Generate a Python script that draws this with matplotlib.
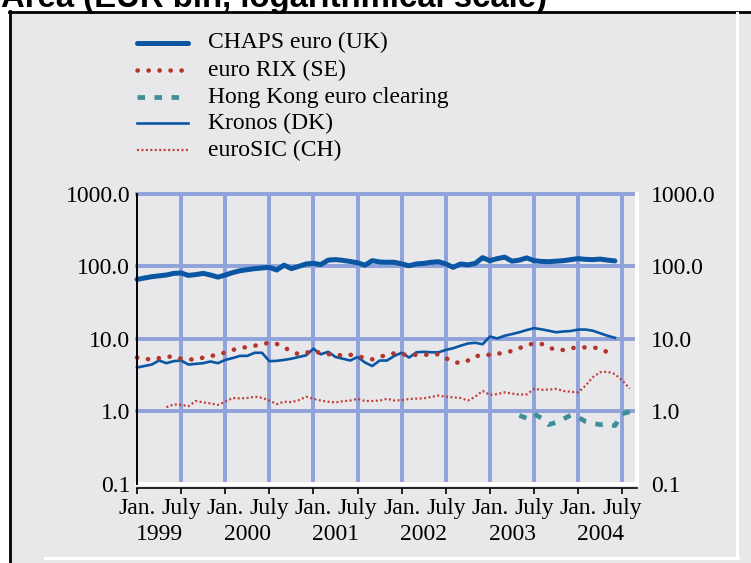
import numpy as np
import matplotlib
matplotlib.use("Agg")
import matplotlib.pyplot as plt
from matplotlib.lines import Line2D
from matplotlib.patches import Rectangle
from matplotlib.ticker import NullLocator

# ---------------- data (month index 0 = Jan. 1999) ----------------
title = "Area (EUR bln, logarithmical scale)"

chaps_start = 0
chaps = [66, 69, 72, 74, 76, 80, 81, 75, 77, 80, 76, 71,
         76, 82, 87, 90, 93, 95, 97, 89, 104, 93, 100, 108,
         110, 106, 122, 124, 121, 117, 112, 104, 120, 115, 114, 114,
         108, 102, 108, 110, 114, 116, 108, 97, 108, 105, 110, 132,
         120, 128, 134, 118, 122, 131, 120, 117, 116, 118, 120, 124,
         128, 125, 124, 126, 122, 119]

rix_start = 0
rix = [5.5, 5.3, 5.15, 5.4, 5.7, 5.6, 5.3, 5.2, 5.15, 5.5, 5.8, 5.95,
       6.5, 7.0, 7.4, 7.7, 8.0, 8.4, 8.8, 8.5, 7.6, 6.7, 6.1, 6.4,
       6.8, 6.3, 6.1, 6.1, 5.8, 6.0, 5.8, 5.4, 5.2, 5.6, 6.0, 6.3,
       6.1, 5.95, 6.0, 6.0, 6.05, 6.1, 5.4, 4.8, 4.6, 5.0, 5.7, 6.0,
       6.0, 6.2, 6.4, 6.8, 7.4, 8.2, 8.6, 8.5, 7.6, 7.0, 7.0, 7.4,
       7.6, 7.6, 7.6, 7.3, 6.5]

hk_start = 52
hk = [0.87, 0.80, 0.92, 0.80, 0.65, 0.70, 0.78, 0.88, 0.82, 0.72,
      0.68, 0.65, 0.66, 0.63, 0.92, 0.98]

kronos_start = 0
kronos = [4.0, 4.2, 4.4, 5.0, 4.6, 4.9, 5.0, 4.4, 4.5, 4.6, 4.85, 4.6,
          5.1, 5.4, 5.8, 5.8, 6.4, 6.4, 4.9, 4.95, 5.1, 5.3, 5.6, 5.9,
          7.3, 6.1, 6.6, 5.6, 5.3, 5.0, 5.6, 4.7, 4.2, 5.0, 5.0, 5.8,
          6.4, 5.5, 6.5, 6.6, 6.5, 6.5, 7.0, 7.4, 8.0, 8.6, 8.8, 8.4,
          10.7, 10.1, 11.0, 11.6, 12.3, 13.2, 14.0, 13.5, 12.9, 12.3, 12.6, 12.8,
          13.4, 13.4, 12.9, 11.9, 11.0, 10.3]

eurosic_start = 4
eurosic = [1.13, 1.24, 1.22, 1.17, 1.38, 1.32, 1.28, 1.22,
           1.35, 1.52, 1.50, 1.52, 1.58, 1.53, 1.40, 1.25, 1.35, 1.33, 1.42, 1.58,
           1.48, 1.40, 1.35, 1.32, 1.37, 1.40, 1.48, 1.38, 1.38, 1.40, 1.48, 1.40,
           1.42, 1.47, 1.49, 1.50, 1.57, 1.64, 1.58, 1.55, 1.52, 1.40, 1.58, 1.90,
           1.68, 1.72, 1.82, 1.75, 1.69, 1.70, 2.03, 1.97, 1.98, 2.03, 1.90, 1.85,
           1.82, 2.25, 2.95, 3.45, 3.50, 3.25, 2.65, 2.05]

series_names = ["CHAPS euro (UK)", "euro RIX (SE)", "Hong Kong euro clearing",
                "Kronos (DK)", "euroSIC (CH)"]

month_ticks = list(range(0, 67, 6))
month_labels = ["Jan.", "July"] * 6
year_positions = [3, 15, 27, 39, 51, 63]
year_labels = ["1999", "2000", "2001", "2002", "2003", "2004"]
ytick_values = [0.1, 1, 10, 100, 1000]
ytick_labels = ["0.1", "1.0", "10.0", "100.0", "1000.0"]

# ---------------- styles ----------------
BLUE = "#0b56a3"
RED = "#b5342c"
RED2 = "#bf3f37"
TEAL = "#3f8f99"
GRID = "#8fa2d9"
BG = "#e8e8ea"

styles = [
    dict(color=BLUE, lw=3.6, ls="-", solid_capstyle="round"),
    dict(color=RED, lw=3.3, ls=(0, (0.05, 2.35)), dash_capstyle="round"),
    dict(color=TEAL, lw=3.4, ls=(0, (1.6, 2.0)), dash_capstyle="butt"),
    dict(color=BLUE, lw=1.9, ls="-"),
    dict(color=RED2, lw=1.6, ls=(0, (0.9, 1.1))),
]

plt.rcParams["font.family"] = ["Liberation Serif", "DejaVu Serif"]

W, H = 751, 563
fig = plt.figure(figsize=(W / 100, H / 100), dpi=100, facecolor="white")

def fx(x):
    return x / W

def fy(y):
    return 1 - y / H

# background panel and frame
fig.add_artist(Rectangle((fx(9.5), 0), 1 - fx(9.5), fy(11.5), transform=fig.transFigure,
                         facecolor=BG, edgecolor="none", zorder=0))
fig.add_artist(Line2D([fx(8.5), 1.0], [fy(11.8), fy(11.8)], transform=fig.transFigure,
                      color="black", lw=2.0, zorder=1))
fig.add_artist(Line2D([fx(9.5), fx(9.5)], [fy(11), 0], transform=fig.transFigure,
                      color="black", lw=2.0, zorder=1))
fig.add_artist(Line2D([fx(736.5), fx(736.5)], [fy(12.5), fy(557.5)], transform=fig.transFigure,
                      color="white", lw=2.2, zorder=1))
fig.add_artist(Line2D([fx(45), fx(737.5)], [fy(557.5), fy(557.5)], transform=fig.transFigure,
                      color="white", lw=2.2, zorder=1))

# title (cut off at the top as in the reference)
fig.text(fx(1), fy(7.5), title, ha="left", va="baseline", fontsize=23.7,
         fontweight="bold", family=["Liberation Sans", "DejaVu Sans"], zorder=2)

# ---------------- axes ----------------
ax = fig.add_axes([fx(137), fy(483.5), (637 - 137) / W, (483.5 - 194) / H])
ax.set_facecolor("none")
ax.set_yscale("log")
ax.set_ylim(0.1, 1000)
ax.set_xlim(0, 68)

for v in ytick_values[1:]:
    ax.axhline(v, color=GRID, lw=2.8, zorder=1, clip_on=False)
for m in month_ticks[1:]:
    ax.axvline(m, color=GRID, lw=2.8, zorder=1)
ax.axhline(0.1, color="white", lw=2.9, zorder=2, clip_on=False)

all_series = [(chaps_start, chaps), (rix_start, rix), (hk_start, hk),
              (kronos_start, kronos), (eurosic_start, eurosic)]
order = [4, 3, 1, 2, 0]
for i in order:
    start, vals = all_series[i]
    x = np.arange(len(vals)) + start
    ax.plot(x, vals, zorder=3 + (4 - i) * 0.1, clip_on=False, **styles[i])

# spines
ax.spines["top"].set_visible(False)
ax.spines["right"].set_color("white")
ax.spines["right"].set_linewidth(2.9)
ax.spines["left"].set_color("black")
ax.spines["left"].set_linewidth(1.4)
ax.spines["left"].set_zorder(4)
ax.spines["bottom"].set_position(("outward", 3))
ax.spines["bottom"].set_color("black")
ax.spines["bottom"].set_linewidth(1.2)

# y ticks
ax.set_yticks(ytick_values, labels=ytick_labels)
ax.yaxis.set_minor_locator(NullLocator())
ax.tick_params(axis="y", which="both", length=0, pad=5, labelsize=17)

axr = ax.twinx()
axr.set_yscale("log")
axr.set_ylim(0.1, 1000)
axr.set_yticks(ytick_values, labels=ytick_labels)
axr.yaxis.set_minor_locator(NullLocator())
axr.tick_params(axis="y", which="both", length=0, pad=10, labelsize=17)
for s in axr.spines.values():
    s.set_visible(False)
axr.set_facecolor("none")

# x ticks
ax.set_xticks(month_ticks, labels=month_labels)
ax.set_xticks(year_positions, labels=year_labels, minor=True)
ax.tick_params(axis="x", which="major", direction="out", length=4.3, width=1.2,
               pad=3.0, labelsize=17)
ax.tick_params(axis="x", which="minor", length=0, pad=26, labelsize=17)

# ---------------- legend ----------------
legend_rows = [42.7, 70, 97, 123, 150]
for i, name in enumerate(series_names):
    y = legend_rows[i]
    fig.add_artist(Line2D([fx(137), fx(188)], [fy(y), fy(y)], transform=fig.transFigure,
                          zorder=3, **styles[i]))
    fig.text(fx(208), fy(y), name, ha="left", va="center", fontsize=17, zorder=3)

fig.savefig("out.png", dpi=100, facecolor="white")
